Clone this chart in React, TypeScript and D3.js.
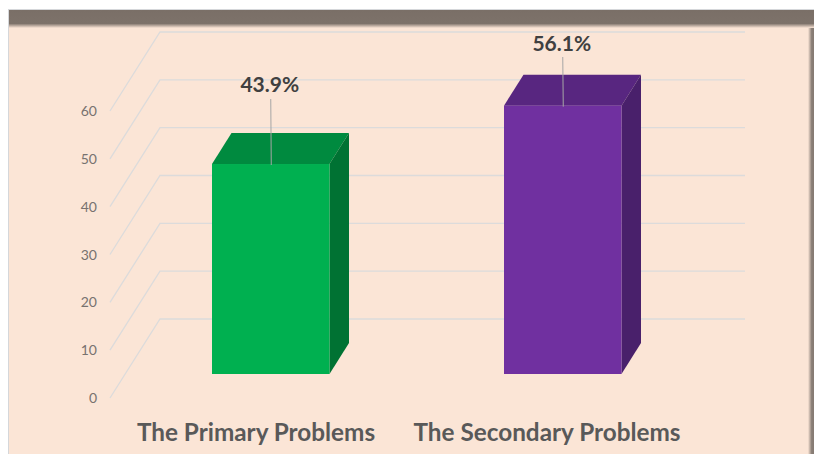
import React from "react";
import * as d3 from "d3";

const categories = ["The Primary Problems", "The Secondary Problems"];
const values = [43.9, 56.1];
const valueLabels = ["43.9%", "56.1%"];
const tickValues = [0, 10, 20, 30, 40, 50, 60];
const frontColors = ["#00b050", "#7030a0"];
const topColors = ["#008a3f", "#582680"];
const sideColors = ["#007233", "#49206b"];

const W = 814, H = 454;
const y = d3.scaleLinear().domain([0, 60]).range([398, 111]);
const depthX = 50, depthY = -79;
const backRight = 745;
const barFloorShift = 24; // front of bars is raised from the front axis
const barLefts = [212, 504];
const barWidth = 117.5;
const barDx = 19.5, barDy = -31;
const labelBaselines = [92, 51];
const leaderEnds = [99, 57];
const catX = [256, 547];

const poly = (pts: [number, number][]) => d3.line()(pts) + "Z";

export default function App() {
  return (
    <svg width={W} height={H} viewBox={`0 0 ${W} ${H}`}
      style={{ position: "fixed", left: 0, top: 0, display: "block" }}>
      <defs>
        <linearGradient id="topBand" x1="0" y1="0" x2="0" y2="1">
          <stop offset="0" stopColor="#7a6f67" />
          <stop offset="0.75" stopColor="#7d726a" />
          <stop offset="1" stopColor="#fbe5d6" />
        </linearGradient>
        <linearGradient id="rightBand" x1="0" y1="0" x2="1" y2="0">
          <stop offset="0" stopColor="#fbe5d6" />
          <stop offset="0.6" stopColor="#8a7f77" />
          <stop offset="1" stopColor="#857a72" />
        </linearGradient>
      </defs>
      <rect width={W} height={H} fill="#ffffff" />
      <rect x={8.5} y={9.5} width={W - 8.5} height={H} fill="#fbe5d6" stroke="#d5d7da" strokeWidth={1} />
      <rect x={808} y={24} width={6} height={H - 24} fill="url(#rightBand)" />
      <rect x={9} y={10} width={W - 9} height={18} fill="url(#topBand)" />

      {tickValues.map((t) => {
        const fy = y(t), by = fy + depthY;
        return (
          <g key={t}>
            <path d={d3.line()([[110, fy], [110 + depthX, by], [backRight, by]]) as string}
              fill="none" stroke="#dcdbdb" strokeWidth={1.3} />
            <text x={97} y={fy + 5} textAnchor="end" fontFamily="Lato, sans-serif" fontSize={14} fill="#77726f">{t}</text>
          </g>
        );
      })}

      {values.map((v, i) => {
        const x0 = barLefts[i], x1 = x0 + barWidth;
        const bottom = y(0) - barFloorShift;
        const top = bottom - (y(0) - y(v));
        return (
          <g key={i}>
            <path d={poly([[x0, top], [x0 + barDx, top + barDy], [x1 + barDx, top + barDy], [x1, top]])} fill={topColors[i]} />
            <path d={poly([[x1, top], [x1 + barDx, top + barDy], [x1 + barDx, bottom + barDy], [x1, bottom]])} fill={sideColors[i]} />
            <rect x={x0} y={top} width={barWidth} height={bottom - top} fill={frontColors[i]} />
            <line x1={x0 + barWidth / 2} x2={x0 + barWidth / 2 + 0.5} y1={leaderEnds[i]} y2={top + 1} stroke="#a6a6a6" strokeWidth={1} />
            <text x={x0 + barWidth / 2 - 1} y={labelBaselines[i]} textAnchor="middle" fontFamily="Lato, sans-serif"
              fontWeight={700} fontSize={21} fill="#404040">{valueLabels[i]}</text>
          </g>
        );
      })}

      {categories.map((c, i) => (
        <text key={c} x={catX[i]} y={441} textAnchor="middle" fontFamily="Lato, sans-serif"
          fontWeight={700} fontSize={24.3} fill="#595959">{c}</text>
      ))}
    </svg>
  );
}
